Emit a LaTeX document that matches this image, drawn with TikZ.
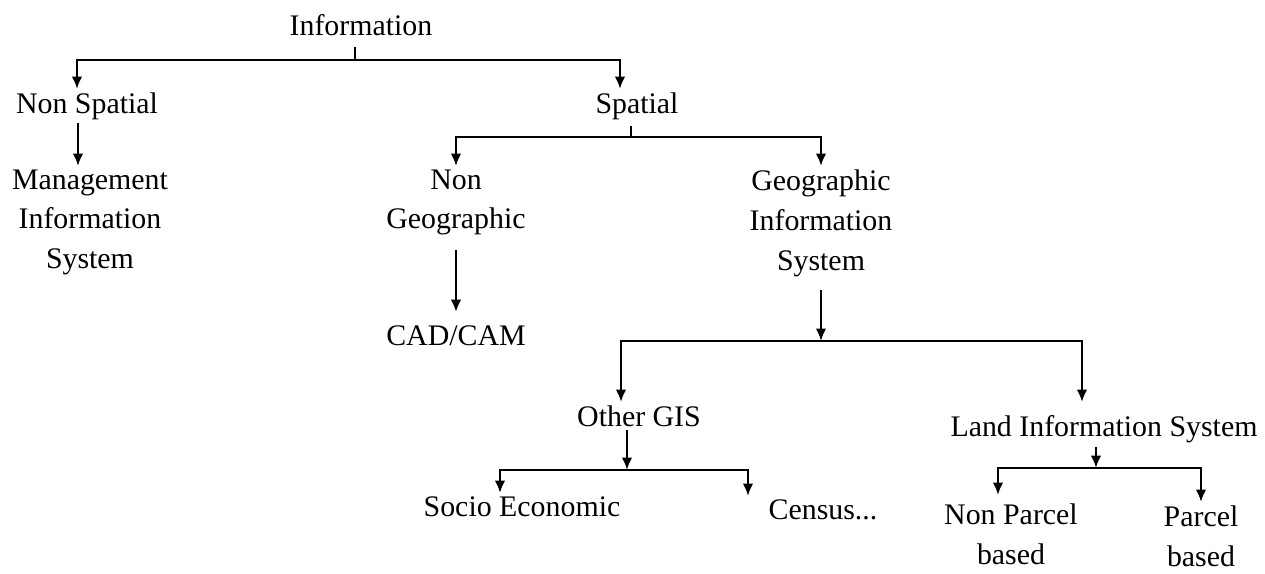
\documentclass[tikz,border=0pt]{standalone}
\usepackage{fontspec}
\setmainfont{Liberation Serif}
\usepackage{tikz}
\usetikzlibrary{arrows.meta}

\tikzset{
	lbl/.style={inner sep=0pt, outer sep=2pt, anchor=north, align=center,
		font=\fontsize{17}{22.7}\selectfont},
	arr/.style={-{Latex[length=7pt,width=6pt]}, line width=1.4pt},
	ln/.style={line width=1.4pt}
}

\begin{document}
\begin{tikzpicture}[x=0.02cm,y=-0.02cm]
			\useasboundingbox (0,0) rectangle (1265,574);
			% nodes
			\node[lbl] (info) at (361,11) {Information};
			\node[lbl] (nonsp) at (87,89) {Non Spatial};
			\node[lbl] (spat) at (637,89) {Spatial};
			\node[lbl] (mis) at (90,166) {Management\\Information\\System};
			\node[lbl] (nongeo) at (456,166) {Non\\Geographic};
			\node[lbl] (gis) at (821,166) {Geographic\\Information\\System};
			\node[lbl] (cad) at (456,322) {CAD/CAM};
			\node[lbl] (other) at (639,402) {Other GIS};
			\node[lbl] (lis) at (1104,412) {Land Information System};
			\node[lbl] (socio) at (522,493) {Socio Economic};
			\node[lbl] (census) at (823,496) {Census...};
			\node[lbl] (nonpar) at (1011,500) {Non Parcel\\based};
			\node[lbl] (par) at (1201,502) {Parcel\\based};
			% junctions
			\coordinate (j1) at (355,60);
			\coordinate (j2) at (631,137);
			\coordinate (j3) at (821,341);
			\coordinate (j4) at (627,470);
			\coordinate (j5) at (1096,468);
			% information
			\draw[ln] (info.south -| j1) ++(0,8) -- (j1);
			\draw[arr] (j1) -| ([xshift=-0.2cm]nonsp.north);
			\draw[arr] (j1) -| ([xshift=-0.34cm]spat.north);
			\draw[arr] ([xshift=-0.18cm]nonsp.south) -- ([xshift=-0.18cm]nonsp.south |- mis.north);
			% spatial
			\draw[ln] (spat.south -| j2) ++(0,3) -- (j2);
			\draw[arr] (j2) -| (nongeo.north);
			\draw[arr] (j2) -| (gis.north);
			\draw[arr, shorten <=0.22cm, shorten >=0.2cm] (nongeo.south) -- (cad.north);
			% gis
			\draw[arr, shorten <=0.2cm] (gis.south) -- (j3);
			\draw[arr] (j3) -| ([xshift=-0.36cm]other.north);
			\draw[arr, shorten >=0.2cm] (j3) -| ([xshift=-0.44cm]lis.north);
			% other gis
			\draw[arr] (other.south -| j4) -- (j4);
			\draw[arr] (j4) -| ([xshift=-0.44cm]socio.north);
			\draw[arr] (j4) -| ([xshift=-1.5cm]census.north);
			% land information system
			\draw[arr] (lis.south -| j5) -- (j5);
			\draw[arr, shorten >=0.1cm] (j5) -| ([xshift=-0.26cm]nonpar.north);
			\draw[arr] (j5) -| (par.north);
		\end{tikzpicture}
\end{document}
